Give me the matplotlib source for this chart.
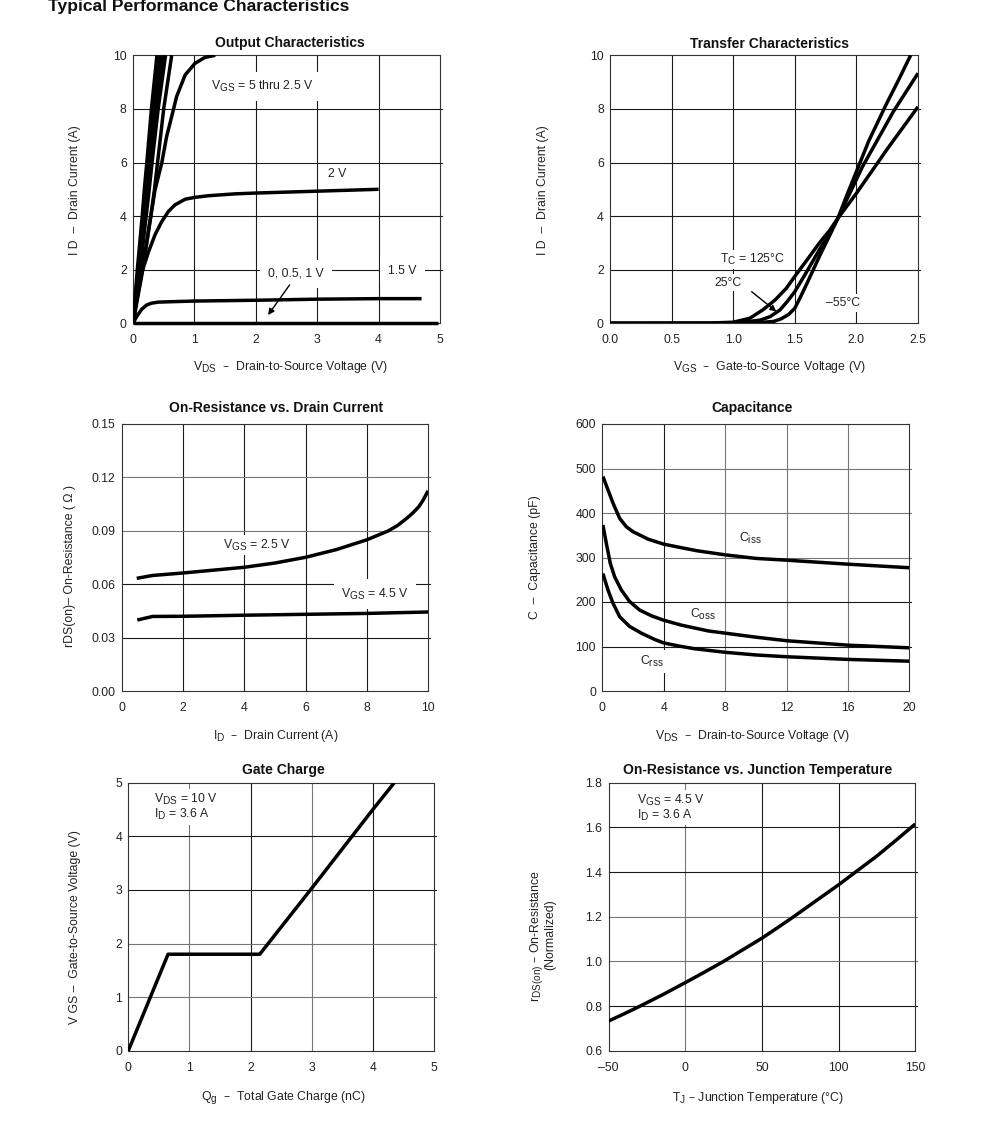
import matplotlib
matplotlib.use('Agg')
import matplotlib.pyplot as plt
import matplotlib._mathtext as _mt
from matplotlib.transforms import Affine2D

plt.rcParams['font.family'] = ['Liberation Sans', 'DejaVu Sans']
plt.rcParams['mathtext.default'] = 'regular'
_mt.SHRINK_FACTOR = 0.82   # subscripts in the datasheet are not that small

W, H = 991, 1134
INK = '#222222'
GRID = '#1a1a1a'
GREY = '#777777'
_LW = 2.5
_FS = 8.8

# output characteristics, the bundle of 5 thru 3 V shares one current scale
out_i_bundle = [0, 1, 2, 3, 4, 5, 6, 8, 10]
out_v_a = [0, 0.035, 0.07, 0.11, 0.15, 0.185, 0.225, 0.30, 0.39]
out_v_b = [0, 0.04, 0.085, 0.13, 0.17, 0.21, 0.255, 0.34, 0.44]
out_v_c = [0, 0.05, 0.10, 0.145, 0.19, 0.24, 0.28, 0.38, 0.485]
out_v_d = [0, 0.055, 0.115, 0.165, 0.215, 0.265, 0.31, 0.41, 0.53]
out_v_e = [0, 0.07, 0.15, 0.22, 0.29, 0.35, 0.40, 0.50, 0.63]
out_x_25 = [0, 0.08, 0.16, 0.225, 0.29, 0.358, 0.467, 0.548, 0.657, 0.71, 0.85, 1.01, 1.17, 1.34]
out_y_25 = [0, 1, 2, 3, 4, 4.97, 5.97, 6.97, 7.96, 8.46, 9.27, 9.7, 9.92, 10]
out_x_20 = [0, 0.07, 0.14, 0.25, 0.358, 0.467, 0.575, 0.684, 0.85, 1.01, 1.23, 1.66, 2, 3, 4]
out_y_20 = [0, 1.0, 1.87, 2.65, 3.3, 3.79, 4.17, 4.42, 4.63, 4.7, 4.76, 4.83, 4.86, 4.93, 5.0]
out_x_15 = [0, 0.06, 0.14, 0.22, 0.3, 0.41, 0.68, 1.01, 2, 3, 4, 4.7]
out_y_15 = [0, 0.25, 0.52, 0.68, 0.75, 0.79, 0.81, 0.83, 0.86, 0.9, 0.92, 0.92]
out_x_0 = [0, 4.97]
out_y_0 = [0, 0]

# transfer characteristics
tr_x_m55 = [0, 1.0, 1.22, 1.33, 1.39, 1.45, 1.5, 1.55, 1.6, 1.7, 1.78, 1.85, 1.92, 2.0, 2.1, 2.24, 2.35, 2.44]
tr_y_m55 = [0, 0, 0.03, 0.07, 0.17, 0.33, 0.56, 1.02, 1.5, 2.5, 3.25, 3.92, 4.75, 5.66, 6.8, 8.15, 9.15, 10]
tr_x_25 = [0, 0.9, 1.08, 1.22, 1.3, 1.38, 1.44, 1.5, 1.6, 1.7, 1.78, 1.85, 2.05, 2.3, 2.5]
tr_y_25 = [0, 0, 0.04, 0.12, 0.25, 0.5, 0.82, 1.18, 1.95, 2.75, 3.35, 3.92, 5.85, 7.9, 9.33]
tr_x_125 = [0, 0.81, 1.0, 1.136, 1.24, 1.34, 1.43, 1.5, 1.6, 1.7, 1.78, 1.85, 2.0, 2.25, 2.5]
tr_y_125 = [0, 0.01, 0.04, 0.19, 0.5, 0.87, 1.3, 1.75, 2.37, 3.0, 3.45, 3.92, 4.85, 6.5, 8.08]

# on-resistance vs drain current
rd_x_25 = [0.48, 1, 2, 3, 4, 5, 6, 7, 8, 8.7, 9, 9.3, 9.5, 9.7, 9.85, 10]
rd_y_25 = [0.0634, 0.065, 0.0664, 0.068, 0.0696, 0.072, 0.0752, 0.0795, 0.085, 0.09, 0.093,
           0.097, 0.1, 0.1036, 0.1075, 0.1125]
rd_x_45 = [0.5, 1, 2, 4, 6, 8, 10]
rd_y_45 = [0.040, 0.042, 0.0421, 0.0427, 0.0432, 0.0437, 0.0445]

# capacitance
iss_x = [0.04, 0.37, 0.7, 1.13, 1.57, 2, 3, 4, 5.15, 6.2, 8, 10, 12, 16, 20]
iss_y = [482, 452, 422, 388, 369, 358, 341, 330, 322, 315, 306, 298, 294, 285, 277]
oss_x = [0.04, 0.26, 0.52, 0.8, 1.24, 1.78, 2.43, 3.2, 4, 5.15, 6.9, 8, 10, 12, 16, 20]
oss_y = [373, 332, 287, 257, 227, 201, 182, 169, 159, 148, 135, 130, 121, 113, 103, 97]
rss_x = [0.04, 0.37, 0.7, 1.13, 1.78, 2.54, 3.4, 4, 5, 6, 8, 10, 12, 16, 20]
rss_y = [264, 227, 197, 167, 145, 130, 116, 108, 101, 95, 87, 81, 77, 71, 67]

# gate charge
qg_x = [0, 0.65, 2.15, 3, 4, 4.35]
qg_y = [0, 1.8, 1.8, 3.03, 4.5, 5]

# on-resistance vs temperature
tj_x = [-50, -40, -30, -15, 0, 12, 25, 37, 50, 60, 70, 85, 100, 112, 125, 137, 150]
tj_y = [0.733, 0.765, 0.798, 0.85, 0.905, 0.95, 1.0, 1.05, 1.104, 1.15, 1.197, 1.27, 1.343,
        1.405, 1.472, 1.54, 1.615]

fig = plt.figure(figsize=(W / 100, H / 100), dpi=100)
PX = Affine2D().scale(1 / W, -1 / H).translate(0, 1) + fig.transFigure


def make_ax(box, xlim, ylim, xticks, yticks, xfmt, yfmt, title, title_xy,
            xlabel, xlabel_xy, ylabel, ylabel_xy,
            grey_x=(), grey_y=()):
    l, t, r, b = box
    ax = fig.add_axes([l / W, 1 - b / H, (r - l) / W, (b - t) / H])
    ax.set_xlim(*xlim)
    ax.set_ylim(*ylim)
    ax.set_xticks(xticks)
    ax.set_yticks(yticks)
    ax.set_xticklabels([xfmt(v).replace('-', '–') for v in xticks])
    ax.set_yticklabels([yfmt(v) for v in yticks])
    ax.tick_params(length=0, labelsize=_FS, labelcolor=INK)
    ax.tick_params(axis='x', pad=8)
    ax.tick_params(axis='y', pad=4.5)
    for s in ax.spines.values():
        s.set_linewidth(0.8)
        s.set_color('#333333')
    for v in xticks[1:-1]:
        ax.axvline(v, color=GREY if v in grey_x else GRID, lw=0.8, zorder=1)
    for v in yticks[1:-1]:
        ax.axhline(v, xmax=1.006, color=GREY if v in grey_y else GRID, lw=0.8,
                   zorder=1, clip_on=False)

    # y given so the title is not moved back on draw
    ax.set_title(title, fontsize=10.0, fontweight='bold', color='#111111', va='center', y=1.0)
    ax.title.set_transform(PX)
    ax.title.set_position(title_xy)

    ax.set_xlabel(xlabel, fontsize=_FS, color=INK, va='center')
    ax.xaxis.set_label_coords(*xlabel_xy, transform=PX)
    ax.set_ylabel(ylabel, fontsize=_FS, color=INK, va='center')
    ax.yaxis.set_label_coords(*ylabel_xy, transform=PX)
    return ax


def note(ax, x, y, s, pad=3.0, ha='center'):
    ax.text(x, y, s, fontsize=_FS, color=INK, ha=ha, va='center', zorder=3,
            bbox=dict(fc='white', ec='none', pad=pad))


def curve(ax, x, y, clip=True):
    ax.plot(x, y, color='black', lw=_LW, zorder=2.6, solid_capstyle='butt', clip_on=clip)


def arrow(ax, start, tip):
    ax.annotate('', xy=tip, xytext=start, zorder=4,
                arrowprops=dict(arrowstyle='-|>', color='black', lw=1.0,
                                shrinkA=0, shrinkB=0, mutation_scale=9))


fig.text(48, 6, 'Typical Performance Characteristics', transform=PX, fontsize=12.6,
         fontweight='bold', color='#111111', va='center')

_i = lambda v: f'{v:d}'
_f1 = lambda v: f'{v:.1f}'
_f2 = lambda v: f'{v:.2f}'

# 1  output characteristics
ax1 = make_ax((133, 55.3, 440, 323.3), (0, 5), (0, 10), [0, 1, 2, 3, 4, 5],
              [0, 2, 4, 6, 8, 10], _i, _i, 'Output Characteristics', (290, 43.5),
              '$V_{DS}$  –  Drain-to-Source Voltage (V)', (290, 367),
              'I D  –  Drain Current (A)', (75, 190))
for v in (out_v_a, out_v_b, out_v_c, out_v_d, out_v_e):
    curve(ax1, v, out_i_bundle)
curve(ax1, out_x_25, out_y_25)
curve(ax1, out_x_20, out_y_20)
curve(ax1, out_x_15, out_y_15)
curve(ax1, out_x_0, out_y_0, clip=False)
note(ax1, 2.11, 8.85, '$V_{GS}$ = 5 thru 2.5 V', pad=5)
note(ax1, 3.32, 5.56, '2 V', pad=1)
note(ax1, 2.65, 1.84, '0, 0.5, 1 V', pad=6)
note(ax1, 4.39, 1.97, '1.5 V', pad=6)
arrow(ax1, (2.55, 1.43), (2.2, 0.31))

# 2  transfer characteristics
ax2 = make_ax((610, 55.3, 918, 323.3), (0, 2.5), (0, 10), [0, 0.5, 1.0, 1.5, 2.0, 2.5],
              [0, 2, 4, 6, 8, 10], _f1, _i, 'Transfer Characteristics', (769, 43.5),
              '$V_{GS}$  –  Gate-to-Source Voltage (V)', (769, 367),
              'I D  –  Drain Current (A)', (543, 190))
curve(ax2, tr_x_m55, tr_y_m55)
curve(ax2, tr_x_25, tr_y_25)
curve(ax2, tr_x_125, tr_y_125)
note(ax2, 1.16, 2.38, '$T_{C}$ = 125°C', pad=1.5)
note(ax2, 0.96, 1.52, '25°C', pad=2)
note(ax2, 1.89, 0.75, '–55°C', pad=2)
arrow(ax2, (1.15, 1.18), (1.35, 0.44))

# 3  on-resistance vs drain current
ax3 = make_ax((122, 424, 428, 691.3), (0, 10), (0, 0.15), [0, 2, 4, 6, 8, 10],
              [0, 0.03, 0.06, 0.09, 0.12, 0.15], _i, _f2, 'On-Resistance vs. Drain Current',
              (276, 408), '$I_{D}$  –  Drain Current (A)', (276, 736),
              'rDS(on)– On-Resistance ( Ω )', (70, 566), grey_y=(0.09, 0.12))
curve(ax3, rd_x_25, rd_y_25)
curve(ax3, rd_x_45, rd_y_45)
note(ax3, 4.4, 0.0821, '$V_{GS}$ = 2.5 V', pad=2)
note(ax3, 8.27, 0.0546, '$V_{GS}$ = 4.5 V', pad=5)

# 4  capacitance
ax4 = make_ax((602.3, 424, 909.3, 691), (0, 20), (0, 600), [0, 4, 8, 12, 16, 20],
              [0, 100, 200, 300, 400, 500, 600], _i, _i, 'Capacitance', (752, 408),
              '$V_{DS}$  –  Drain-to-Source Voltage (V)', (752, 736),
              'C  –  Capacitance (pF)', (535, 557), grey_x=(8, 12, 16), grey_y=(300, 400, 500))
curve(ax4, iss_x, iss_y)
curve(ax4, oss_x, oss_y)
curve(ax4, rss_x, rss_y)
note(ax4, 9.63, 342, '$C_{iss}$', pad=1)
note(ax4, 6.59, 171, '$C_{oss}$', pad=1)
note(ax4, 3.26, 66, '$C_{rss}$', pad=3)

# 5  gate charge
ax5 = make_ax((128.3, 782.7, 434, 1050.7), (0, 5), (0, 5), [0, 1, 2, 3, 4, 5],
              [0, 1, 2, 3, 4, 5], _i, _i, 'Gate Charge', (283, 770),
              '$Q_{g}$  –  Total Gate Charge (nC)', (283, 1097.5),
              'V GS –  Gate-to-Source Voltage (V)', (75, 927),
              grey_x=(1, 3), grey_y=(1, 2))
curve(ax5, qg_x, qg_y)
note(ax5, 0.42, 4.68, '$V_{DS}$ = 10 V', pad=2, ha='left')
note(ax5, 0.42, 4.40, '$I_{D}$ = 3.6 A', pad=2, ha='left')

# 6  on-resistance vs junction temperature
ax6 = make_ax((608.7, 782.7, 915.3, 1050.7), (-50, 150), (0.6, 1.8), [-50, 0, 50, 100, 150],
              [0.6, 0.8, 1.0, 1.2, 1.4, 1.6, 1.8], _i, _f1,
              'On-Resistance vs. Junction Temperature', (758, 770),
              '$T_{J}$ – Junction Temperature (°C)', (758, 1097.5),
              '$r_{DS(on)}$ – On-Resistance', (537, 936), grey_x=(0,), grey_y=(1.0, 1.2))
ax6.text(550, 935, '(Normalized)', transform=PX, rotation=90, fontsize=_FS, color=INK,
         ha='center', va='center')
curve(ax6, tj_x, tj_y)
note(ax6, -31.7, 1.72, '$V_{GS}$ = 4.5 V', pad=2, ha='left')
note(ax6, -31.7, 1.655, '$I_{D}$ = 3.6 A', pad=2, ha='left')

fig.savefig('out.png', dpi=100)
